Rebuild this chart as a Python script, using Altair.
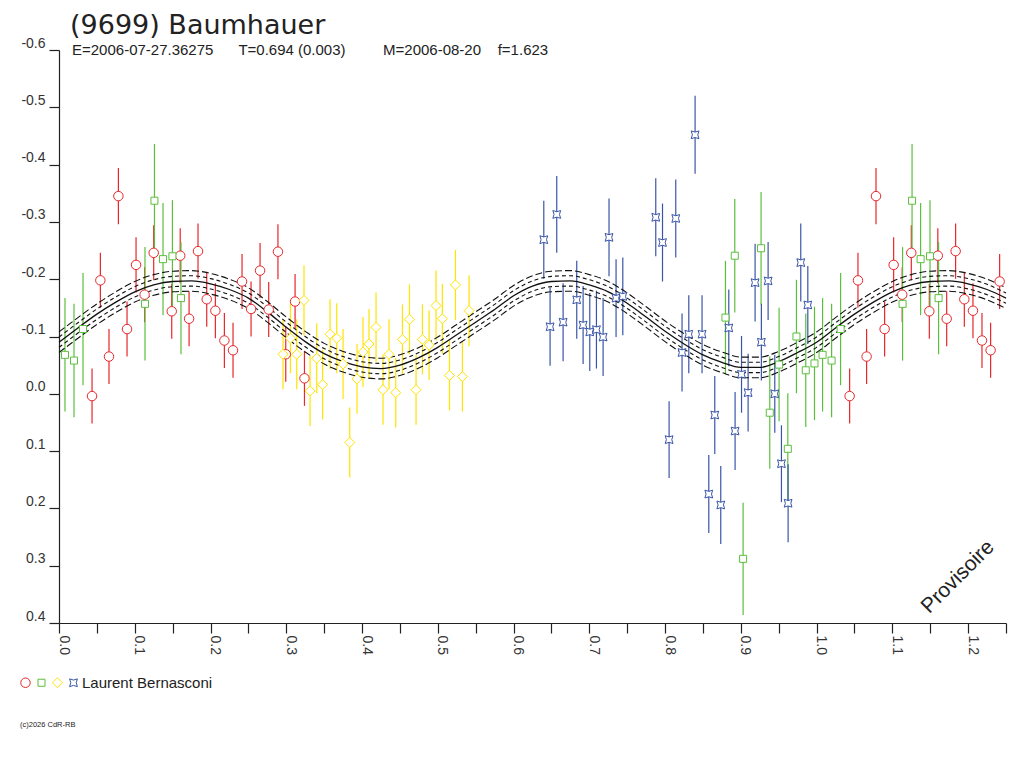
import altair as alt
import pandas as pd

FONT = "Liberation Sans"
NB = "\u00a0"

# ---------------- texts ----------------
title_text = "(9699) Baumhauer"
info_parts = ["E=2006-07-27.36275", "T=0.694 (0.003)", "M=2006-08-20", "f=1.623"]
subtitle_text = info_parts[0] + NB * 6 + info_parts[1] + NB * 9 + info_parts[2] + NB * 4 + info_parts[3]
observer = "Laurent Bernasconi"
stamp_text = "Provisoire"
copyright_text = "(c)2026 CdR-RB"

# ---------------- series styling ----------------
series_names = ["A", "B", "C", "D"]
series_colors = ["#e8262b", "#5cbf3c", "#ffe400", "#3a55a8"]
CIRCLE = "M1.58,0A1.58,1.58 0 1,1 -1.58,0A1.58,1.58 0 1,1 1.58,0Z"
SQUARE = "M-1.17,-1.17L1.17,-1.17L1.17,1.17L-1.17,1.17Z"
DIAMOND = "M0,-1.67L1.67,0L0,1.67L-1.67,0Z"
STAR = "M-1.3,-1.3Q0,-0.5 1.3,-1.3Q0.5,0 1.3,1.3Q0,0.5 -1.3,1.3Q-0.5,0 -1.3,-1.3Z"
series_shapes = [CIRCLE, SQUARE, DIAMOND, STAR]
SYMBOL_SIZE = 36

# ---------------- observations (phase, magnitude, error) ----------------
red_phase = [0.0436, 0.0546, 0.0660, 0.0784, 0.0898, 0.1017, 0.1130, 0.1250, 0.1488, 0.1600,
             0.1717, 0.1835, 0.1950, 0.2064, 0.2183, 0.2297, 0.2416, 0.2535, 0.2654, 0.2768,
             0.2890, 0.2993, 0.3116, 0.3240]
red_mag = [0.004, -0.198, -0.065, -0.345, -0.113, -0.225, -0.173, -0.246, -0.144, -0.241,
           -0.131, -0.249, -0.165, -0.145, -0.093, -0.076, -0.196, -0.148, -0.215, -0.147,
           -0.248, -0.069, -0.161, -0.027]
red_err = [0.048, 0.048, 0.048, 0.049, 0.048, 0.048, 0.048, 0.048, 0.048, 0.048,
           0.048, 0.048, 0.048, 0.048, 0.048, 0.048, 0.048, 0.048, 0.048, 0.048,
           0.048, 0.048, 0.048, 0.048]

green_phase = [0.0079, 0.0198, 0.0317, 0.1135, 0.1260, 0.1373, 0.1497, 0.1610, 0.8797, 0.8920,
               0.9030, 0.9267, 0.9382, 0.9505, 0.9620, 0.9734, 0.9857, 0.9972]
green_mag = [-0.068, -0.058, -0.113, -0.157, -0.337, -0.235, -0.240, -0.167, -0.133, -0.241,
             0.288, -0.254, 0.033, -0.051, 0.096, -0.100, -0.041, -0.053]
green_err = [0.099, 0.099, 0.098, 0.099, 0.099, 0.098, 0.098, 0.098, 0.099, 0.099,
             0.098, 0.098, 0.098, 0.099, 0.097, 0.099, 0.099, 0.099]

yellow_phase = [0.2957, 0.3055, 0.3138, 0.3234, 0.3314, 0.3402, 0.3480, 0.3578, 0.3666, 0.3750,
                0.3838, 0.3934, 0.4013, 0.4092, 0.4185, 0.4277, 0.4356, 0.4445, 0.4533, 0.4626,
                0.4713, 0.4797, 0.4885, 0.4977, 0.5060, 0.5154, 0.5233, 0.5325, 0.5413]
yellow_mag = [-0.069, -0.097, -0.069, -0.163, -0.005, -0.062, -0.016, -0.104, -0.097, -0.052,
              0.085, -0.026, -0.073, -0.087, -0.116, -0.007, -0.069, -0.002, -0.095, -0.130,
              -0.007, -0.095, -0.085, -0.154, -0.131, -0.032, -0.190, -0.030, -0.145]
yellow_err = [0.061, 0.061, 0.061, 0.061, 0.061, 0.061, 0.061, 0.061, 0.061, 0.061,
              0.061, 0.061, 0.061, 0.061, 0.061, 0.061, 0.061, 0.061, 0.061, 0.061,
              0.061, 0.061, 0.061, 0.061, 0.061, 0.061, 0.061, 0.061, 0.062]

blue_phase = [0.6399, 0.6482, 0.6570, 0.6654, 0.6834, 0.6918, 0.7006, 0.7094, 0.7182, 0.7260,
              0.7353, 0.7442, 0.7877, 0.7966, 0.8053, 0.8141, 0.8224, 0.8313, 0.8396, 0.8488,
              0.8577, 0.8656, 0.8735, 0.8841, 0.8924, 0.9009, 0.9096, 0.9188, 0.9271, 0.9360,
              0.9448, 0.9536, 0.9624, 0.9791, 0.9884]
blue_mag = [-0.269, -0.117, -0.313, -0.125, -0.164, -0.120, -0.108, -0.112, -0.099, -0.273,
            -0.167, -0.170, -0.308, -0.264, 0.080, -0.306, -0.072, -0.104, -0.452, -0.104,
            0.175, 0.037, 0.194, -0.115, 0.065, -0.034, -0.002, -0.194, -0.090, -0.197,
            0.000, 0.122, 0.191, -0.229, -0.155]
blue_err = [0.068, 0.068, 0.067, 0.068, 0.068, 0.068, 0.068, 0.068, 0.068, 0.068,
            0.068, 0.068, 0.068, 0.068, 0.067, 0.068, 0.068, 0.068, 0.068, 0.068,
            0.068, 0.068, 0.068, 0.067, 0.068, 0.067, 0.068, 0.068, 0.067, 0.068,
            0.068, 0.067, 0.068, 0.068, 0.068]

# ---------------- fitted curve ----------------
curve_phase = [0.000, 0.025, 0.050, 0.075, 0.100, 0.125, 0.150, 0.175, 0.200, 0.225,
               0.250, 0.275, 0.300, 0.325, 0.350, 0.375, 0.400, 0.425, 0.450, 0.475,
               0.500, 0.525, 0.550, 0.575, 0.600, 0.625, 0.650, 0.675, 0.700, 0.725,
               0.750, 0.775, 0.800, 0.825, 0.850, 0.875, 0.900, 0.925, 0.950, 0.975, 1.000]
curve_mag = [-0.090, -0.115, -0.139, -0.160, -0.178, -0.190, -0.196, -0.197, -0.192, -0.182,
             -0.167, -0.143, -0.116, -0.091, -0.070, -0.056, -0.047, -0.044, -0.050, -0.063,
             -0.081, -0.103, -0.125, -0.147, -0.171, -0.188, -0.196, -0.197, -0.190, -0.178,
             -0.158, -0.134, -0.109, -0.087, -0.068, -0.055, -0.046, -0.046, -0.056, -0.072, -0.090]
inner_band = 0.009
outer_band = 0.018

PHASE_MAX = 1.25
x_tick_values = [0.0, 0.05, 0.1, 0.15, 0.2, 0.25, 0.3, 0.35, 0.4, 0.45, 0.5, 0.55, 0.6,
                 0.65, 0.7, 0.75, 0.8, 0.85, 0.9, 0.95, 1.0, 1.05, 1.1, 1.15, 1.2, 1.25]
y_tick_values = [-0.6, -0.5, -0.4, -0.3, -0.2, -0.1, 0.0, 0.1, 0.2, 0.3, 0.4]

# ---------------- build tables ----------------
def frame(name, ph, mg, er):
    return pd.DataFrame({"series": name, "phase": ph, "mag": mg, "err": er})

obs = pd.concat([
    frame("A", red_phase, red_mag, red_err),
    frame("B", green_phase, green_mag, green_err),
    frame("C", yellow_phase, yellow_mag, yellow_err),
    frame("D", blue_phase, blue_mag, blue_err),
], ignore_index=True)
# phases repeated after 1.0 (folded light curve shown over 1.25 cycles)
wrap = obs[obs["phase"] + 1 <= PHASE_MAX].copy()
wrap["phase"] = wrap["phase"] + 1
obs = pd.concat([obs, wrap], ignore_index=True)
obs["lo"] = obs["mag"] - obs["err"]
obs["hi"] = obs["mag"] + obs["err"]
obs["rcol"] = obs["series"].map(dict(zip(series_names, series_colors)))

curve = pd.DataFrame({"phase": curve_phase, "mag": curve_mag})
cwrap = curve[(curve["phase"] > 0) & (curve["phase"] + 1 <= PHASE_MAX)].copy()
cwrap["phase"] = cwrap["phase"] + 1
curve = pd.concat([curve, cwrap], ignore_index=True).sort_values("phase")

def bands(off, tag):
    up = curve.copy(); up["mag"] = up["mag"] - off; up["band"] = tag + "_up"
    dn = curve.copy(); dn["mag"] = dn["mag"] + off; dn["band"] = tag + "_dn"
    return pd.concat([up, dn], ignore_index=True)

inner = bands(inner_band, "inner")
outer = bands(outer_band, "outer")

# ---------------- scales & axes ----------------
xscale = alt.Scale(domain=[0, PHASE_MAX], nice=False, zero=False)
yscale = alt.Scale(domain=[-0.6, 0.4], reverse=True, nice=False, zero=False)

x_axis = alt.Axis(values=x_tick_values,
                  labelExpr="round(datum.value*100) % 10 == 0 ? format(datum.value, '.1f') : ''",
                  labelAngle=90, labelAlign="left", labelBaseline="alphabetic",
                  labelPadding=2, tickSize=10, tickWidth=1.2, domainWidth=1.2,
                  labelFont=FONT, labelFontSize=14, labelColor="#333",
                  domainColor="#222", tickColor="#222", grid=False, title=None,
                  labelFlush=False, labelOverlap=False)
y_axis = alt.Axis(values=y_tick_values,
                  labelExpr="replace(format(datum.value, '.1f'), '\u2212', '-')",
                  labelBaseline="bottom", labelPadding=4, tickSize=10, tickWidth=1.2,
                  domainWidth=1.2, labelFont=FONT, labelFontSize=14, labelColor="#333",
                  domainColor="#222", tickColor="#222", grid=False, title=None,
                  labelOverlap=False)

X = alt.X("phase:Q", scale=xscale, axis=x_axis)
Y = alt.Y("mag:Q", scale=yscale, axis=y_axis)

cscale = alt.Scale(domain=series_names, range=series_colors)
sscale = alt.Scale(domain=series_names, range=series_shapes)
legend = alt.Legend(title=None, orient="none", legendX=-41, legendY=625,
                    direction="horizontal",
                    labelExpr="datum.value == 'D' ? '" + NB + observer + "' : ''",
                    labelFont=FONT, labelFontSize=15, labelColor="#222",
                    labelOffset=1, columnPadding=0, symbolSize=SYMBOL_SIZE,
                    symbolStrokeWidth=1, padding=0)

errbars = alt.Chart(obs).mark_rule(strokeWidth=1.2).encode(
    x=X, y=alt.Y("lo:Q", scale=yscale, axis=y_axis), y2="hi:Q",
    color=alt.Color("rcol:N", scale=None))

center = alt.Chart(curve).mark_line(color="#111", strokeWidth=1.3, interpolate="monotone").encode(x=X, y=Y)
inner_l = alt.Chart(inner).mark_line(color="#111", strokeWidth=1.1, strokeDash=[4, 3],
                                     interpolate="monotone").encode(x=X, y=Y, detail="band:N")
outer_l = alt.Chart(outer).mark_line(color="#111", strokeWidth=1.1, strokeDash=[7, 3],
                                     interpolate="monotone").encode(x=X, y=Y, detail="band:N")

points = alt.Chart(obs).mark_point(filled=False, fill="white", fillOpacity=1, opacity=1,
                                   strokeWidth=1, size=SYMBOL_SIZE).encode(
    x=X, y=Y,
    color=alt.Color("series:N", scale=cscale, legend=legend),
    shape=alt.Shape("series:N", scale=sscale, legend=legend))

def label(text, x, y, size, font=FONT, **kw):
    return alt.Chart(pd.DataFrame({"t": [text]})).mark_text(
        font=font, fontSize=size, color="#222", **kw).encode(
        text="t:N", x=alt.value(x), y=alt.value(y))

title_l = label(title_text, 11, -16, 27, font="DejaVu Sans", align="left", baseline="alphabetic")
sub_l = label(subtitle_text, 13, 5, 15, align="left", baseline="alphabetic")
stamp_l = label(stamp_text, 899, 527, 21, align="center", baseline="middle", angle=315)
copy_l = label(copyright_text, -39, 675, 7.5, align="left", baseline="middle")

chart = alt.layer(errbars, outer_l, inner_l, center, points, title_l, sub_l, stamp_l, copy_l).properties(
    width=947, height=573,
    padding={"left": 51, "top": 42, "right": 10, "bottom": 150},
    autosize=alt.AutoSizeParams(type="none"),
    background="white",
).configure_view(stroke=None)

chart.save("out.html", embed_options={"renderer": "svg", "actions": False})
